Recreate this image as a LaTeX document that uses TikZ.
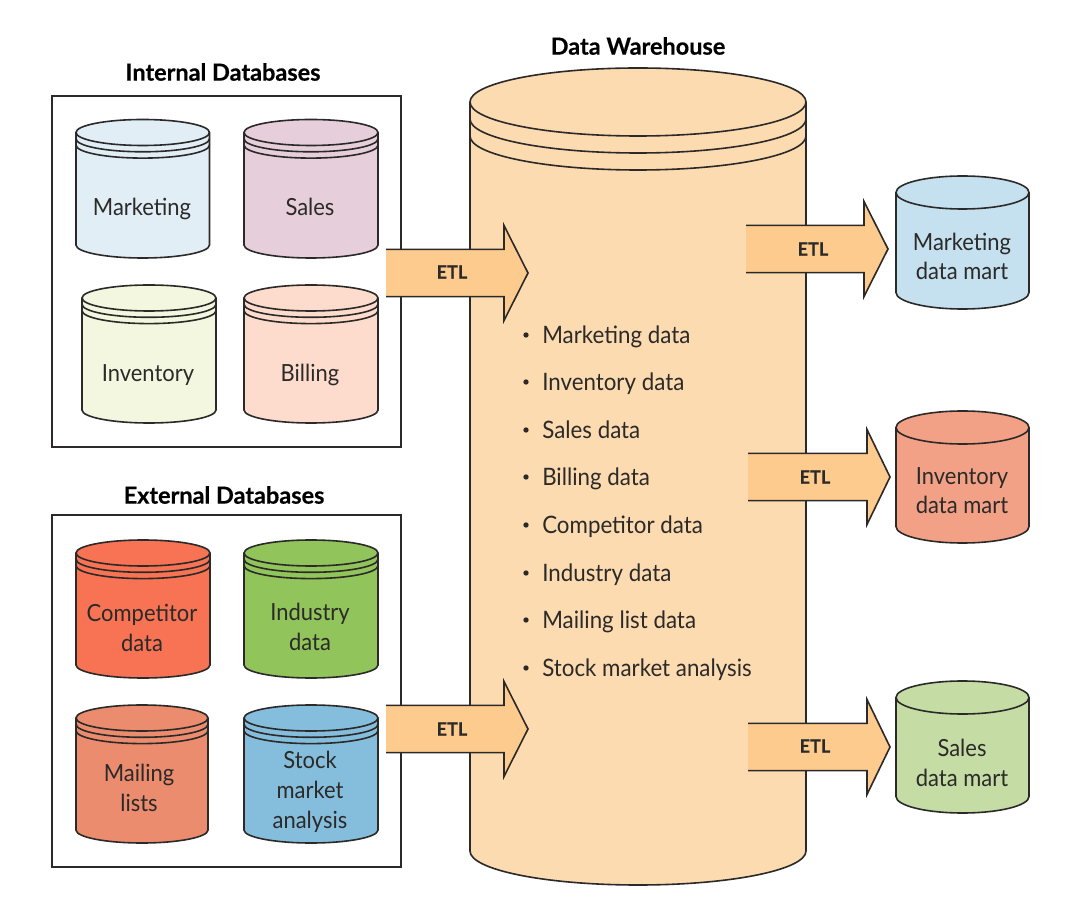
\documentclass[tikz,border=0pt]{standalone}
\usepackage{fontspec}
\setmainfont{Lato}[FakeStretch=0.93,BoldFeatures={FakeStretch=1,FakeBold=0.4}]
\definecolor{inkc}{HTML}{2B2A29}
\definecolor{arrowc}{HTML}{FECB8E}
\definecolor{whc}{HTML}{FDDBB0}
\definecolor{cmkt}{HTML}{E1EEF6}
\definecolor{csal}{HTML}{E6CFDB}
\definecolor{cinv}{HTML}{F3F7DF}
\definecolor{cbil}{HTML}{FEDCCD}
\definecolor{ccom}{HTML}{F77354}
\definecolor{cind}{HTML}{91C45A}
\definecolor{cmai}{HTML}{EB8C6F}
\definecolor{csto}{HTML}{85BEDC}
\definecolor{mblue}{HTML}{C5E0EE}
\definecolor{mred}{HTML}{F2A187}
\definecolor{mgreen}{HTML}{C5DCA5}
\tikzset{
  body/.style={draw=inkc,line width=1.2pt,line join=miter},
  frame/.style={draw=inkc,line width=2.1pt},
  dbtext/.style={text=inkc,align=center,inner sep=0pt,anchor=base,font=\fontsize{17.7}{22.4}\selectfont},
  etltext/.style={text=inkc,inner sep=0pt,font=\fontsize{13.5}{16}\selectfont\bfseries},
  title/.style={text=black,inner sep=0pt,font=\fontsize{17.6}{20}\selectfont\bfseries},
  itemtext/.style={text=inkc,inner sep=0pt,anchor=base west,font=\fontsize{18}{20}\selectfont},
  dot/.style={circle,fill=inkc,inner sep=0pt,minimum size=4pt}
}
% xL xR top bottom ry gap colour
\newcommand{\dbcyl}[7]{%
  \pgfmathsetmacro{\rxv}{(#2-#1)/2*0.75}%
  \pgfmathsetmacro{\ryv}{#5*0.75}%
  \pgfmathsetmacro{\yct}{#3+#5}%
  \pgfmathsetmacro{\ycb}{#4-#5}%
  \fill[#7] (#1,\yct) arc[start angle=180,end angle=0,x radius=\rxv pt,y radius=\ryv pt] -- (#2,\ycb) arc[start angle=0,end angle=-180,x radius=\rxv pt,y radius=\ryv pt] -- cycle;
  \draw[body] (#1,\yct) arc[start angle=180,end angle=0,x radius=\rxv pt,y radius=\ryv pt] -- (#2,\ycb) arc[start angle=0,end angle=-180,x radius=\rxv pt,y radius=\ryv pt] -- cycle;
  \draw[body] (#1,\yct) arc[start angle=180,end angle=360,x radius=\rxv pt,y radius=\ryv pt];
  \ifdim #6pt>0pt
    \pgfmathsetmacro{\yra}{\yct+#6}%
    \pgfmathsetmacro{\yrb}{\yct+2*#6}%
    \draw[body] (#1,\yra) arc[start angle=180,end angle=360,x radius=\rxv pt,y radius=\ryv pt];
    \draw[body] (#1,\yrb) arc[start angle=180,end angle=360,x radius=\rxv pt,y radius=\ryv pt];
  \fi
}
% xstart head-x tip-x centre-y
\newcommand{\etlarrow}[4]{%
  \pgfmathsetmacro{\sa}{#4-23.6}%
  \pgfmathsetmacro{\sb}{#4+23.6}%
  \pgfmathsetmacro{\ha}{#4-47.5}%
  \pgfmathsetmacro{\hb}{#4+47.5}%
  \fill[arrowc] (#1,\sa) -- (#2,\sa) -- (#2,\ha) -- (#3,#4) -- (#2,\hb) -- (#2,\sb) -- (#1,\sb) -- cycle;
  \draw[body] (#1,\sa) -- (#2,\sa) -- (#2,\ha) -- (#3,#4) -- (#2,\hb) -- (#2,\sb) -- (#1,\sb);
}
\begin{document}
\begin{tikzpicture}[x=0.75pt,y=-0.75pt]
\useasboundingbox (0,0) rectangle (1071,912);
\fill[white] (0,0) rectangle (1071,912);

% frames
\draw[frame] (52,96) rectangle (401,447);
\draw[frame] (52,515) rectangle (401,867);
\node[title] (internalT) at (223,72) {Internal Databases};
\node[title] (externalT) at (224,495) {External Databases};
\node[title] (warehouseT) at (638,46) {Data Warehouse};

% internal databases
\dbcyl{76}{209.5}{119.5}{258}{13}{6.3}{cmkt}
\dbcyl{244}{378}{119.5}{258}{13}{6.3}{csal}
\dbcyl{82}{216}{285}{423}{13}{6.3}{cinv}
\dbcyl{244}{378}{285}{423}{13}{6.3}{cbil}
\node[dbtext] (marketing) at (142,216) {Marketing};
\node[dbtext] (sales) at (310,216) {Sales};
\node[dbtext] (inventory) at (148,382) {Inventory};
\node[dbtext] (billing) at (310,382) {Billing};

% external databases
\dbcyl{76}{210}{540}{678}{13}{6.3}{ccom}
\dbcyl{244}{378}{540}{678}{13}{6.3}{cind}
\dbcyl{76}{208}{705}{843}{13}{6.3}{cmai}
\dbcyl{244}{378}{705}{843}{13}{6.3}{csto}
\node[dbtext] (competitor) at (142,651) {Competitor\\data};
\node[dbtext] (industry) at (310,650) {Industry\\data};
\node[dbtext] (mailing) at (139,811) {Mailing\\lists};
\node[dbtext] (stock) at (310,828) {Stock\\market\\analysis};

% warehouse
\dbcyl{470}{806}{68}{885}{34}{17}{whc}

% data marts
\dbcyl{896}{1029}{176}{309}{16.5}{0}{mblue}
\dbcyl{896}{1029}{411}{543}{16.5}{0}{mred}
\dbcyl{896}{1029}{681}{813}{16.5}{0}{mgreen}
\node[dbtext] (martA) at (962,280) {Marketing\\data mart};
\node[dbtext] (martB) at (962,514) {Inventory\\data mart};
\node[dbtext] (martC) at (962,786) {Sales\\data mart};

% ETL arrows
\etlarrow{386}{504}{528}{273}
\etlarrow{386}{504}{528}{729}
\etlarrow{746}{864}{888}{249}
\etlarrow{748}{867}{890}{477}
\etlarrow{748}{867}{890}{747}
\node[etltext] (etlA) at (452,272) {ETL};
\node[etltext] (etlB) at (452,729) {ETL};
\node[etltext] (etlC) at (813,249) {ETL};
\node[etltext] (etlD) at (815,477) {ETL};
\node[etltext] (etlE) at (815,746) {ETL};

% list
\foreach \yy/\txt in {335/Marketing data,382/Inventory data,430/Sales data,477/Billing data,525/Competitor data,573/Industry data,620/Mailing list data,668/Stock market analysis}{
  \node[dot] (b\yy) at (526,\yy) {};
  \node[itemtext] (t\yy) at (542,\yy+8.3) {\txt};
}
\end{tikzpicture}
\end{document}
